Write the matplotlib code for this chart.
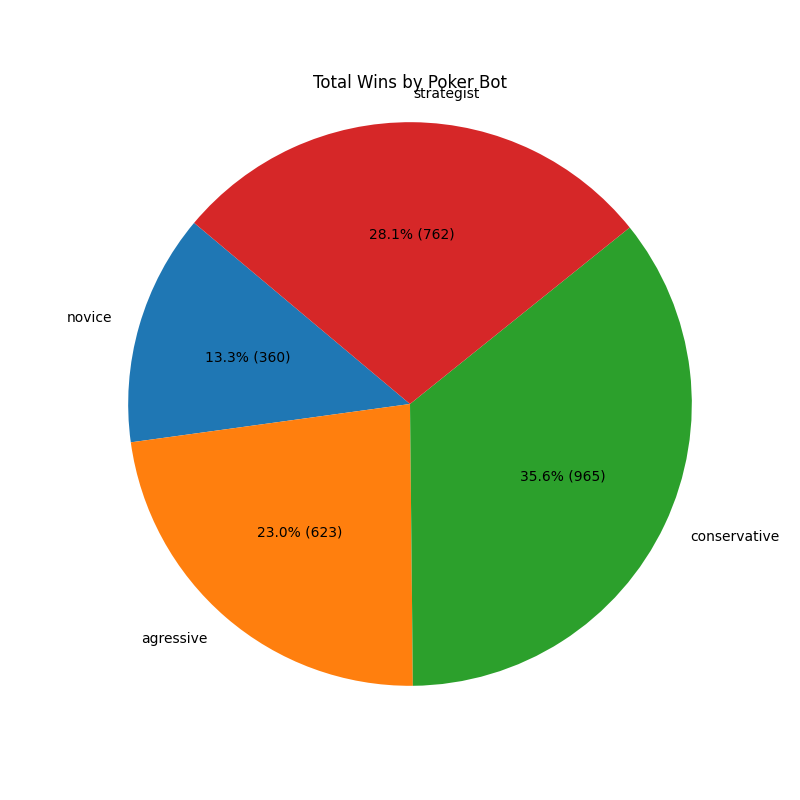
import matplotlib
matplotlib.use('Agg')
import matplotlib.pyplot as plt

# Data
bots = ['novice', 'agressive', 'conservative', 'strategist']
wins = [360, 623, 965, 762]
total = sum(wins)


def fmt(pct):
    val = int(round(pct * total / 100.0))
    return f'{pct:.1f}% ({val})'


plt.figure(figsize=(8, 8))
plt.pie(wins, labels=bots, autopct=fmt, startangle=140)
plt.title('Total Wins by Poker Bot')
plt.axis('equal')
plt.savefig('out.png', dpi=100)
plt.close()
